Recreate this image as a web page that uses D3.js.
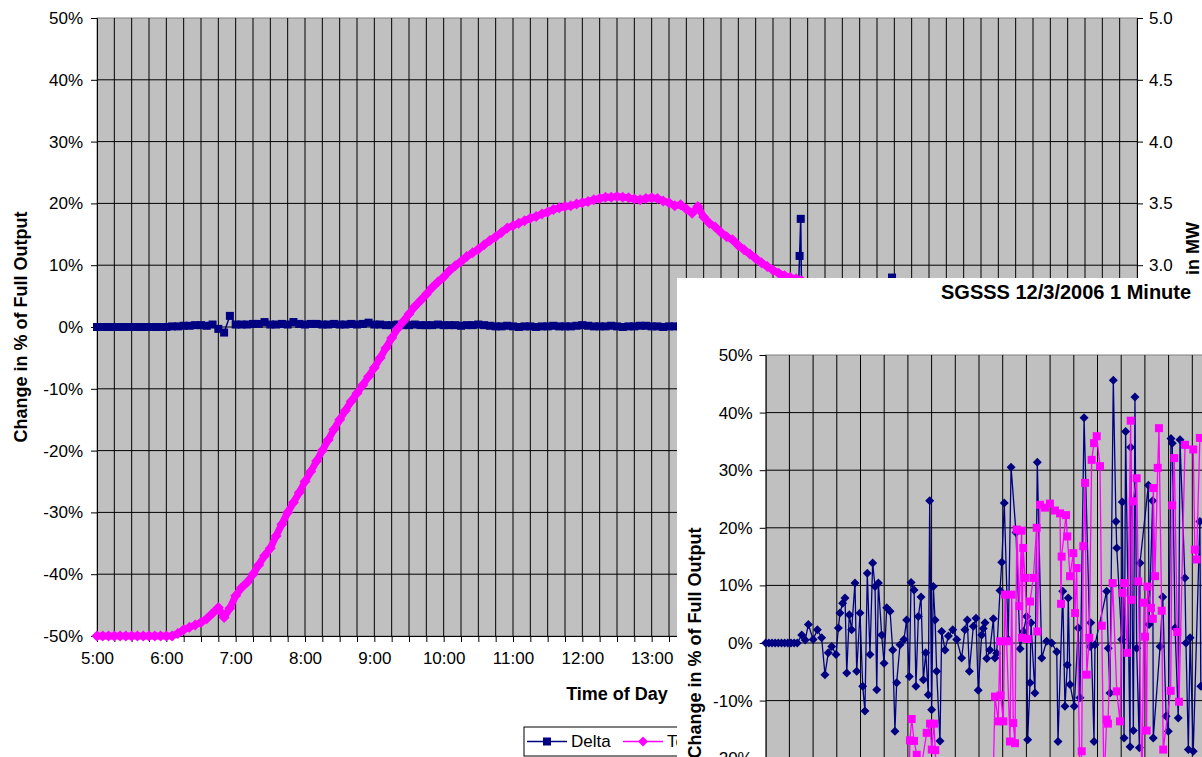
<!DOCTYPE html>
<html>
<head>
<meta charset="utf-8">
<script src="https://cdn.jsdelivr.net/npm/d3@7"></script>
<style>
  html, body { margin: 0; padding: 0; background: #fff; }
  svg { display: block; font-family: "Liberation Sans", Arial, sans-serif; }
</style>
</head>
<body>
<svg id="chart" width="1202" height="757"></svg>
<script>
// ---------- main chart: change in % of full output over the day ----------
const timeTicks = [300, 360, 420, 480, 540, 600, 660, 720, 780, 840, 900, 960, 1020, 1080, 1140, 1200];
const timeLabels = ['5:00', '6:00', '7:00', '8:00', '9:00', '10:00', '11:00', '12:00', '13:00',
                    '14:00', '15:00', '16:00', '17:00', '18:00', '19:00', '20:00'];
const pctTicks = [-50, -40, -30, -20, -10, 0, 10, 20, 30, 40, 50];
const mwTicks = [0, 0.5, 1.0, 1.5, 2.0, 2.5, 3.0, 3.5, 4.0, 4.5, 5.0];
const seriesNames = ['Delta', 'Total'];

// [minute of day, % of full output]
const deltaSeries = [
  [300, 0], [305, 0], [310, 0], [315, 0], [320, 0], [325, 0], [330, 0], [335, 0], [340, 0], [345, 0],
  [350, 0], [355, 0], [360, 0], [365, 0.1], [370, 0.1], [375, 0.2], [380, 0.2], [385, 0.3], [390, 0.3],
  [395, 0.2], [400, 0.4], [405, -0.3], [410, -0.9], [415, 1.8], [420, 0.4], [425, 0.4], [430, 0.4],
  [435, 0.5], [440, 0.5], [445, 0.8], [450, 0.4], [455, 0.4], [460, 0.5], [465, 0.4], [470, 0.8],
  [475, 0.5], [480, 0.4], [485, 0.5], [490, 0.5], [495, 0.4], [500, 0.4], [505, 0.5], [510, 0.4],
  [515, 0.4], [520, 0.5], [525, 0.4], [530, 0.5], [535, 0.7], [540, 0.4], [545, 0.4], [550, 0.3],
  [555, 0.3], [560, 0.4], [565, 0.3], [570, 0.3], [575, 0.4], [580, 0.3], [585, 0.3], [590, 0.3],
  [595, 0.4], [600, 0.3], [605, 0.3], [610, 0.3], [615, 0.2], [620, 0.3], [625, 0.3], [630, 0.4],
  [635, 0.3], [640, 0.2], [645, 0.1], [650, 0.1], [655, 0.2], [660, 0.1], [665, 0.0], [670, 0.1],
  [675, 0.1], [680, 0.0], [685, 0.1], [690, 0.1], [695, 0.2], [700, 0.1], [705, 0.1], [710, 0.1],
  [715, 0.2], [720, 0.3], [725, 0.2], [730, 0.1], [735, 0.1], [740, 0.1], [745, 0.2], [750, 0.1],
  [755, 0.0], [760, 0.1], [765, 0.1], [770, 0.2], [775, 0.2], [780, 0.1], [785, 0.1], [790, 0.0],
  [795, 0.1], [800, 0.1], [805, 0.1], [810, 0.2], [815, 0.1], [820, 0.1], [825, 0.1], [830, 0.0],
  [835, 0.1], [840, 0.1], [845, 0.1], [880, 0.1], [906, 0.2], [908, 11.5], [909, 17.5], [910, 0.3],
  [987, 0.2], [988, 8.0], [989, 0.2]
];

const totalSeries = [
  [300, -50], [305, -50], [310, -50], [315, -50], [320, -50], [325, -50], [330, -50], [335, -50],
  [340, -50], [345, -50], [350, -50], [355, -50], [360, -50], [365, -50], [370, -49.6], [375, -49],
  [380, -48.6], [385, -48.2], [390, -47.8], [395, -47.2], [400, -46.3], [405, -45.4], [410, -47],
  [415, -45.5], [420, -43.5], [425, -42.2], [430, -41.3], [435, -40], [440, -38.5], [445, -37],
  [450, -35.8], [455, -33.8], [460, -31.9], [465, -30], [470, -28.4], [475, -26.8], [480, -25],
  [485, -23.4], [490, -21.7], [495, -20], [500, -18.3], [505, -16.6], [510, -15], [515, -13.5],
  [520, -12], [525, -10.7], [530, -9.4], [535, -8], [540, -6.6], [545, -5], [550, -3.4], [555, -1.8],
  [560, -0.3], [565, 0.9], [570, 2.1], [575, 3.3], [580, 4.3], [585, 5.3], [590, 6.4], [595, 7.3],
  [600, 8.1], [605, 9.1], [610, 9.9], [615, 10.6], [620, 11.4], [625, 12], [630, 12.6], [635, 13.3],
  [640, 14], [645, 14.6], [650, 15.3], [655, 16], [660, 16.4], [665, 16.8], [670, 17.2], [675, 17.6],
  [680, 17.9], [685, 18.3], [690, 18.6], [695, 19], [700, 19.3], [705, 19.5], [710, 19.6], [715, 19.9],
  [720, 20.1], [725, 20.3], [730, 20.6], [735, 20.8], [740, 21], [745, 21], [750, 21.1], [755, 21],
  [760, 20.9], [765, 20.7], [770, 20.6], [775, 20.8], [780, 20.9], [785, 20.8], [790, 20.4],
  [795, 20.1], [800, 19.6], [805, 19.8], [810, 19.1], [815, 18.4], [820, 19.5], [825, 17.8],
  [830, 16.8], [835, 16.2], [840, 15.3], [845, 14.6], [850, 14.1], [855, 13.2], [860, 12.5],
  [865, 11.8], [870, 11.1], [875, 10.4], [880, 9.8], [885, 9.2], [890, 8.7], [895, 8.3], [900, 8],
  [905, 7.8], [910, 7.5]
];

// ---------- inset: SGSSS 12/3/2006 1 minute data ----------
const insetTitle = 'SGSSS 12/3/2006 1 Minute';

// [minutes from start, % of full output]
const insetNavy = [
  [0, 0], [2, 0], [4, 0], [6, 0], [8, 0], [10, 0], [12, 0], [14, 0], [16, 0], [18, 0], [20, 0],
  [22.8, 1.4], [25, 0.5], [27, 3.2], [30, 0.6], [32.7, 2.3], [35.4, 0.9], [37.5, -5.5], [39.6, -1.7],
  [41.8, -0.6], [44.5, -2], [46, 2.6], [47, 5.2], [48.7, 6.9], [50.2, 7.8], [51.3, -5.2], [52.9, 4.9],
  [54.4, 2.3], [56.5, 10.4], [57.6, -4.9], [59.7, 5.2], [61.4, -7.5], [62.8, -11.8], [64.3, 12.1],
  [66, -2], [67.7, 13.9], [69.2, 9.8], [70.3, -8.1], [71.3, 10.4], [73.4, 1.4], [74.9, -3.5],
  [76.6, 6.1], [78.7, 5.5], [80.4, -1.2], [81.8, -15.3], [82.9, -6.9], [85, -0.3], [87.5, 0.6],
  [89.2, 4], [90.9, -5.8], [92, 10.5], [93.9, 9.2], [95.1, -7.5], [96.6, 4.6], [98.3, 8], [99.8, -6.4],
  [101.3, -1.7], [102.9, -9], [103.8, 24.7], [105, -11.6], [106.1, 9.8], [107.2, 4], [108.2, -4.9],
  [110.3, -17], [111.4, 2], [113.5, -1.2], [115.6, 1.2], [118.4, 2.3], [120.9, 0.6], [124, -2.6],
  [126.1, 2.3], [127.6, 4], [128.9, -4.9], [131.4, 2.9], [133.1, 4.3], [134.5, -8.2], [136.7, 1.4],
  [137.7, 2.5], [138.8, 3.5], [139.9, -2.7], [141.9, -1.2], [144.1, 4.2], [145.1, -2.6], [146.2, -1.8],
  [148.3, 9.1], [149.4, 14], [151, 24.3], [153.5, 0.6], [155.3, 30.5], [158.4, 19.2], [161, -1],
  [163, 2], [165.2, 4.6], [165.8, -16.8], [167.3, -6.9], [167.9, 3.5], [170.4, -8.7], [171.9, 31.4],
  [174.7, -2.6], [177.8, 0.3], [181, 0], [184.2, -1.5], [185, -17.1], [188, 9], [189.4, -11],
  [190.9, -3.8], [191.5, 7.8], [192.6, -7.2], [195.3, -11], [197.8, 2.6], [198.9, -9.5], [201.5, 39.1],
  [205.3, -0.6], [205.7, 3.5], [207.8, -17.1], [208.4, -0.3], [215.8, 9], [216.8, -0.9], [217.9, -8.7],
  [220, 45.6], [221.7, 21.1], [222.2, 16.5], [225.3, 0.6], [225.7, 24.5], [226.8, -16.5], [227.8, 36.7],
  [230.6, -18], [231, 34], [232.7, -15.2], [233.7, 42.7], [234.8, -0.9], [236.5, -18.2], [236.9, 13.9],
  [242.2, 27.4], [242.6, 3.2], [244.9, 24.7], [245.3, -16.5], [249.6, -0.6], [251.3, 8], [253.4, -12.7],
  [254.8, -15.3], [256.5, 35.5], [257.3, 34.7], [259.1, 2.6], [261.1, -13], [262.2, 35.3], [265.3, 11.3],
  [266, 0], [267.5, -18.5], [268.6, 0.9], [270.6, -18.8], [274.8, 21.1], [275.4, -7.5]
];

const insetPink = [
  [88, -25], [90.7, -25], [91.3, -16.9], [92.4, -13.2], [93.9, -17], [95.6, -19.4], [96.4, -25],
  [101.9, -15.6], [104, -14], [105.1, -18.5], [106.5, -14], [107.3, -18.6], [108.4, -25], [143.9, -25],
  [145.1, -9.3], [147.2, -13.6], [148.3, 0.3], [148.7, -9.1], [150.4, -13.6], [151.5, 8.4], [152.5, 0.3],
  [154.6, -17.1], [155.7, 8.4], [156.7, -13.9], [157.8, -17.4], [158.9, 19.7], [160.5, 6.4], [162, 19.5],
  [162.2, 0.9], [163, 16.5], [164.1, 11.3], [165.8, 0.7], [167.3, 7.2], [169.4, 11.3], [171.5, 20],
  [171.9, 2], [173.6, 24], [176.8, 23.5], [179.9, 24.2], [183.1, 23], [186.3, 22.5], [186.9, 6.8],
  [187.3, 15], [190.1, 22.2], [190.9, 18.5], [192.6, 11.6], [194.7, 15.6], [195.8, 5.2], [196.8, 13],
  [198.9, -25], [200, -18.8], [201, 16.8], [202.1, 27.8], [203.2, -5.5], [204.8, 0.9], [206.3, 31.8],
  [207.8, 34.7], [209.5, 35.9], [211.6, 30.7], [212.7, 3], [214.1, -25], [215.8, -13.3], [216.6, -14],
  [219.6, 10.4], [222.2, -8.4], [224.2, -13.6], [225.9, 8.7], [226.8, 10.4], [228.9, -1.7], [231, 38.6],
  [231.5, 7.5], [232.3, 24.6], [234.8, 28.6], [235.8, 10.7], [238.2, -25], [239.4, 7], [240.1, 1.1],
  [241.1, -15.2], [241.6, 9.8], [243.9, 6.1], [245, 4.2], [245.3, 26.9], [246.4, 11.6], [248.1, 30.4],
  [248.9, 37.3], [250.6, 5.6], [251.6, -18.5], [256.3, -8.3], [257.3, 23.9], [258.6, 32.1], [260.5, 1.9],
  [261.6, -10.2], [265.4, 34.4], [270.6, 33.6], [271.6, 16.2], [272.7, 14.5], [274.8, 35.6]
];

const NAVY = '#000080';
const PINK = '#ff00ff';
const PLOT_BG = '#c0c0c0';

const svg = d3.select('#chart');

// diamond marker path centred on 0,0
const diamond = r => `M0,${-r}L${r},0L0,${r}L${-r},0Z`;

function styleAxis(g, size) {
  g.select('.domain').attr('stroke', '#000').attr('stroke-width', 1);
  g.selectAll('.tick line').attr('stroke', '#000');
  g.selectAll('.tick text')
    .attr('fill', '#000')
    .attr('font-size', size)
    .attr('font-family', '"Liberation Sans", Arial, sans-serif');
}

/* ===================== inset geometry (needed to know what it hides) ===================== */
const inset = { boxX: 677, boxY: 278, left: 765.7, top: 355, pxPer10: 57.6, pxPer15min: 23.7 };

/* ===================== main chart ===================== */
const main = { left: 97, right: 1137, top: 18, bottom: 636 };

const x = d3.scaleLinear().domain([300, 1200]).range([main.left, main.right]);
const y = d3.scaleLinear().domain([-50, 50]).range([main.bottom, main.top]);
const yMW = d3.scaleLinear().domain([0, 5]).range([main.bottom, main.top]);

const mainG = svg.append('g').attr('class', 'main-chart');

mainG.append('rect')
  .attr('x', main.left).attr('y', main.top)
  .attr('width', main.right - main.left).attr('height', main.bottom - main.top)
  .attr('fill', PLOT_BG).attr('stroke', '#808080');

// gridlines every 15 minutes and every 10 %
const quarterHours = d3.range(315, 1200, 15);
mainG.append('g').selectAll('line').data(quarterHours).join('line')
  .attr('x1', d => x(d)).attr('x2', d => x(d))
  .attr('y1', main.top).attr('y2', main.bottom)
  .attr('stroke', '#000').attr('stroke-width', 1);
mainG.append('g').selectAll('line').data(pctTicks.slice(1, -1)).join('line')
  .attr('x1', main.left).attr('x2', main.right)
  .attr('y1', d => y(d)).attr('y2', d => y(d))
  .attr('stroke', '#000').attr('stroke-width', 1);

// axes
mainG.append('g')
  .attr('transform', `translate(${main.left},0)`)
  .call(d3.axisLeft(y).tickValues(pctTicks).tickFormat(d => d + '%').tickSize(6).tickPadding(8))
  .call(g => styleAxis(g, 17));

mainG.append('g')
  .attr('transform', `translate(${main.right},0)`)
  .call(d3.axisRight(yMW).tickValues(mwTicks).tickFormat(d3.format('.1f')).tickSize(6).tickPadding(6))
  .call(g => styleAxis(g, 17));

mainG.append('g')
  .attr('transform', `translate(0,${main.bottom})`)
  .call(d3.axisBottom(x).tickValues(d3.range(300, 1201, 15)).tickFormat('').tickSize(6))
  .call(g => styleAxis(g, 17));

// hour labels; the ones lying under the inset box are not drawn
const shownHours = timeTicks.filter(t => x(t) + 22 < inset.boxX);
mainG.append('g')
  .attr('transform', `translate(0,${main.bottom})`)
  .call(d3.axisBottom(x).tickValues(shownHours)
    .tickFormat(d => timeLabels[timeTicks.indexOf(d)]).tickSize(0).tickPadding(16))
  .call(g => g.select('.domain').remove())
  .call(g => styleAxis(g, 17));

// axis titles
mainG.append('text')
  .attr('transform', `translate(27,${(main.top + main.bottom) / 2}) rotate(-90)`)
  .attr('text-anchor', 'middle')
  .attr('font-size', 18).attr('font-weight', 'bold')
  .text('Change in % of Full Output');

mainG.append('text')
  .attr('x', (main.left + main.right) / 2).attr('y', 700)
  .attr('text-anchor', 'middle')
  .attr('font-size', 18).attr('font-weight', 'bold')
  .text('Time of Day');

mainG.append('text')
  .attr('transform', 'translate(1199,222) rotate(-90)')
  .attr('text-anchor', 'end')
  .attr('font-size', 18).attr('font-weight', 'bold')
  .text('Output in MW');

// series
const mainLine = d3.line().x(d => x(d[0])).y(d => y(d[1]));

mainG.append('path')
  .datum(deltaSeries)
  .attr('fill', 'none').attr('stroke', NAVY).attr('stroke-width', 1.5)
  .attr('d', mainLine);
mainG.append('g').selectAll('rect').data(deltaSeries).join('rect')
  .attr('x', d => x(d[0]) - 4).attr('y', d => y(d[1]) - 4)
  .attr('width', 8).attr('height', 8)
  .attr('fill', NAVY);

mainG.append('path')
  .datum(totalSeries)
  .attr('fill', 'none').attr('stroke', PINK).attr('stroke-width', 7)
  .attr('stroke-linejoin', 'round').attr('stroke-linecap', 'round')
  .attr('d', mainLine);
mainG.append('g').selectAll('path').data(totalSeries).join('path')
  .attr('transform', d => `translate(${x(d[0])},${y(d[1])})`)
  .attr('d', diamond(5.5))
  .attr('fill', PINK);

// legend
const legend = mainG.append('g').attr('transform', 'translate(524,727)');
legend.append('rect')
  .attr('width', 190).attr('height', 29)
  .attr('fill', '#fff').attr('stroke', '#000');
const legendItems = legend.selectAll('g.item').data(seriesNames).join('g')
  .attr('class', 'item')
  .attr('transform', (d, i) => `translate(${3 + i * 96},14.5)`);
legendItems.append('line')
  .attr('x1', 0).attr('x2', 40)
  .attr('stroke', (d, i) => i === 0 ? NAVY : PINK).attr('stroke-width', 1.5);
legendItems.filter((d, i) => i === 0).append('rect')
  .attr('x', 16).attr('y', -4).attr('width', 8).attr('height', 8).attr('fill', NAVY);
legendItems.filter((d, i) => i === 1).append('path')
  .attr('transform', 'translate(20,0)').attr('d', diamond(5)).attr('fill', PINK);
legendItems.append('text')
  .attr('x', 44).attr('dy', '0.35em')
  .attr('font-size', 17)
  .text(d => d);

/* ===================== inset chart ===================== */
const insetBottom = inset.top + inset.pxPer10 * 10;
const insetRight = inset.left + inset.pxPer15min * 60;

const ix = d3.scaleLinear().domain([0, 900]).range([inset.left, insetRight]);
const iy = d3.scaleLinear().domain([-50, 50]).range([insetBottom, inset.top]);

const insetG = svg.append('g').attr('class', 'inset-chart');

insetG.append('rect')
  .attr('x', inset.boxX).attr('y', inset.boxY)
  .attr('width', 1202 - inset.boxX).attr('height', 757 - inset.boxY)
  .attr('fill', '#fff');

insetG.append('text')
  .attr('x', 941).attr('y', 299)
  .attr('font-size', 20).attr('font-weight', 'bold')
  .text(insetTitle);

insetG.append('rect')
  .attr('x', inset.left).attr('y', inset.top)
  .attr('width', insetRight - inset.left).attr('height', insetBottom - inset.top)
  .attr('fill', PLOT_BG).attr('stroke', '#808080');

insetG.append('g').selectAll('line').data(d3.range(15, 900, 15)).join('line')
  .attr('x1', d => ix(d)).attr('x2', d => ix(d))
  .attr('y1', inset.top).attr('y2', insetBottom)
  .attr('stroke', '#000').attr('stroke-width', 1);
insetG.append('g').selectAll('line').data(pctTicks.slice(1, -1)).join('line')
  .attr('x1', inset.left).attr('x2', insetRight)
  .attr('y1', d => iy(d)).attr('y2', d => iy(d))
  .attr('stroke', '#000').attr('stroke-width', 1);

insetG.append('g')
  .attr('transform', `translate(${inset.left},0)`)
  .call(d3.axisLeft(iy).tickValues(pctTicks.filter(d => d >= -20))
    .tickFormat(d => d + '%').tickSize(6).tickPadding(7))
  .call(g => styleAxis(g, 17));

insetG.append('text')
  .attr('transform', `translate(701,${(inset.top + insetBottom) / 2}) rotate(-90)`)
  .attr('text-anchor', 'middle')
  .attr('font-size', 18).attr('font-weight', 'bold')
  .text('Change in % of Full Output');

const insetLine = d3.line().x(d => ix(d[0])).y(d => iy(d[1]));

insetG.append('path')
  .datum(insetNavy)
  .attr('fill', 'none').attr('stroke', NAVY).attr('stroke-width', 1.3)
  .attr('d', insetLine);
insetG.append('g').selectAll('path').data(insetNavy).join('path')
  .attr('transform', d => `translate(${ix(d[0])},${iy(d[1])})`)
  .attr('d', diamond(4.5))
  .attr('fill', NAVY);

insetG.append('path')
  .datum(insetPink)
  .attr('fill', 'none').attr('stroke', PINK).attr('stroke-width', 1.3)
  .attr('d', insetLine);
insetG.append('g').selectAll('rect').data(insetPink).join('rect')
  .attr('x', d => ix(d[0]) - 4).attr('y', d => iy(d[1]) - 4)
  .attr('width', 8).attr('height', 8)
  .attr('fill', PINK);
</script>
</body>
</html>
